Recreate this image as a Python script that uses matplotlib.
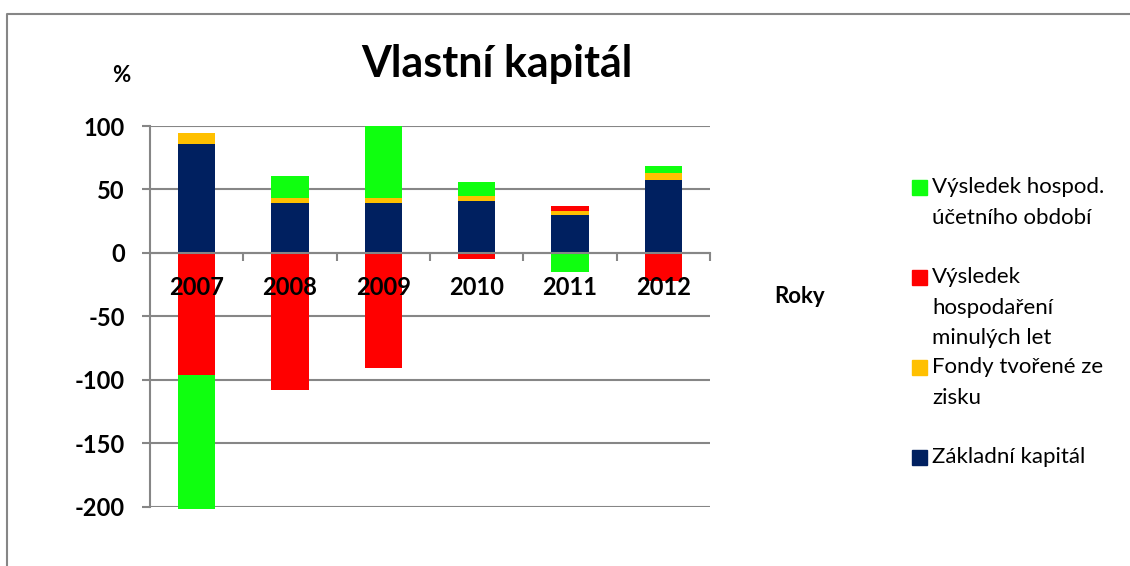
import matplotlib
matplotlib.use("Agg")
import matplotlib.pyplot as plt
from matplotlib.patches import Rectangle
from matplotlib.lines import Line2D
import numpy as np

plt.rcParams['font.family'] = ['Lato', 'DejaVu Sans']
plt.rcParams['axes.unicode_minus'] = False

# data (percent)
years = ["2007", "2008", "2009", "2010", "2011", "2012"]
zakladni = [85.8, 39.1, 39.1, 40.7, 29.7, 57.2]
fondy = [8.4, 4.5, 4.0, 4.5, 3.4, 5.6]
minule = [-96.6, -108.5, -90.5, -5.0, 3.7, -22.0]
vysledek = [-105.4, 17.0, 56.9, 10.5, -15.2, 6.0]

series = [
    ("Základní kapitál", zakladni, "#002060"),
    ("Fondy tvořené ze zisku", fondy, "#FFC000"),
    ("Výsledek hospodaření minulých let", minule, "#FF0000"),
    ("Výsledek hospod. účetního období", vysledek, "#0FFF0F"),
]

GRID = "#868686"

fig = plt.figure(figsize=(11.3, 5.66), dpi=100)
ax = fig.add_axes([150/1130, 1 - 506.5/566, 560/1130, 380.5/566])

x = np.arange(len(years))
pos = np.zeros(len(years))
neg = np.zeros(len(years))
for name, vals, col in series:
    v = np.array(vals)
    bottom = np.where(v >= 0, pos, neg)
    ax.bar(x, v, 0.4, bottom=bottom, color=col, zorder=2, clip_on=False)
    pos = pos + np.where(v >= 0, v, 0)
    neg = neg + np.where(v < 0, v, 0)

ax.set_xlim(-0.5, 5.5)
ax.set_ylim(-200, 100)
ax.set_axisbelow(True)
ax.set_yticks(np.arange(-200, 101, 50))
ax.yaxis.grid(True, color=GRID, lw=1.5)
ax.tick_params(axis='y', direction='out', length=6, width=1.5, color=GRID,
               labelsize=17, pad=12)
for lab in ax.get_yticklabels():
    lab.set_fontweight('bold')

ax.set_xticks([])
ax.set_xticks(np.arange(0.5, 6, 1), minor=True)
ax.tick_params(axis='x', which='minor', direction='out', length=6, width=1.5,
               color=GRID)
ax.spines['bottom'].set_position(('data', 0))
ax.spines['bottom'].set_color(GRID)
ax.spines['bottom'].set_linewidth(1.5)
ax.spines['left'].set_color(GRID)
ax.spines['left'].set_linewidth(1.5)
ax.spines['top'].set_visible(False)
ax.spines['right'].set_visible(False)

for i, yr in enumerate(years):
    ax.text(i, -27.5, yr, ha='center', va='center', fontsize=17,
            fontweight='bold', zorder=5)

fig.text(497/1130, 1 - 64/566, "Vlastní kapitál", ha='center', va='center',
         fontsize=31, fontweight='bold')
fig.text(121/1130, 1 - 75/566, "%", ha='center', va='center', fontsize=16,
         fontweight='bold')
fig.text(800/1130, 1 - 296/566, "Roky", ha='center', va='center', fontsize=16,
         fontweight='bold')

# legend built by hand to follow the reference spacing
legend_rows = [
    ("#0FFF0F", 187, ["Výsledek hospod.", "účetního období"]),
    ("#FF0000", 277, ["Výsledek", "hospodaření", "minulých let"]),
    ("#FFC000", 367, ["Fondy tvořené ze", "zisku"]),
    ("#002060", 457, ["Základní kapitál"]),
]
for col, yc, lines in legend_rows:
    fig.patches.append(Rectangle((912/1130, 1 - (yc + 7.5)/566), 15/1130, 15/566,
                                 transform=fig.transFigure, color=col))
    for k, line in enumerate(lines):
        fig.text(932/1130, 1 - (yc + 30.5*k)/566, line, ha='left', va='center',
                 fontsize=16)

# outer chart frame (top and left edges visible)
fig.lines.append(Line2D([7/1130, 7/1130, 1], [0, 1 - 13.5/566, 1 - 13.5/566],
                        transform=fig.transFigure, color=GRID, lw=1.5))

fig.savefig("out.png", dpi=100)
